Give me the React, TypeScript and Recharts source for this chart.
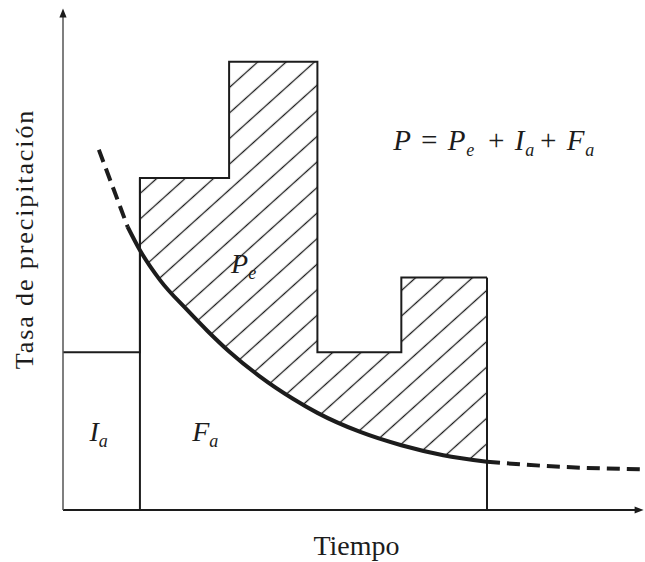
import React from "react";
import { ComposedChart, Area, Line, XAxis, YAxis, ReferenceLine, ReferenceDot } from "recharts";

// hyetograph blocks: edges in time and the rainfall rate of each block
const barEdges = [0, 0.88, 1.9, 2.91, 3.87, 4.85];
const rainRates = [1.9, 4.0, 5.4, 1.9, 2.8];

// infiltration capacity curve
const curveTimes = [0.41, 0.57, 0.74, 0.88, 1.11, 1.42, 1.65, 1.9, 2.25, 2.63, 2.91, 3.4, 3.87, 4.35, 4.85, 5.7, 6.6];
const infiltration = [4.34, 3.89, 3.41, 3.13, 2.77, 2.41, 2.16, 1.91, 1.61, 1.34, 1.17, 0.94, 0.78, 0.66, 0.58, 0.52, 0.49];

// where the curve is drawn solid (dashed outside)
const solidStart = 0.74;
const solidEnd = 4.85;

const INK = "#1c1c1c";
const SERIF = "'Liberation Serif', 'DejaVu Serif', serif";

const stepData = barEdges.map((t, i) => ({ t, rain: rainRates[Math.min(i, rainRates.length - 1)] }));

const curveData = curveTimes.map((t, i) => ({
  t,
  dashA: t <= solidStart ? infiltration[i] : undefined,
  solid: t >= solidStart && t <= solidEnd ? infiltration[i] : undefined,
  dashB: t >= solidEnd ? infiltration[i] : undefined,
}));

// effective rainfall band between the curve and the blocks (after ponding)
const hatchData: { t: number; band: number[] }[] = [];
curveTimes.forEach((t, i) => {
  const f = infiltration[i];
  if (t < barEdges[1] || t > barEdges[barEdges.length - 1]) return;
  let k = barEdges.findIndex((e, j) => j < rainRates.length && t >= e && t < barEdges[j + 1]);
  if (k < 0) k = rainRates.length - 1;
  if (k >= 2 && t === barEdges[k]) hatchData.push({ t, band: [f, rainRates[k - 1]] });
  hatchData.push({ t, band: [f, rainRates[k]] });
});

const Sub = ({ children }: { children: string }) => (
  <>
    <tspan fontSize={18} dy={6}>{children}</tspan>
    <tspan dy={-6}>{"\u200a"}</tspan>
  </>
);

export default function App() {
  return (
    <div style={{ position: "absolute", left: 0, top: 0 }}>
      <ComposedChart width={645} height={562} margin={{ top: 12, right: 5, bottom: 0, left: 0 }}>
        <defs>
          <pattern id="hatch" patternUnits="userSpaceOnUse" width={19} height={19} patternTransform="rotate(-42)">
            <line x1={0} y1={9.5} x2={19} y2={9.5} stroke={INK} strokeWidth={1.3} />
          </pattern>
          <marker id="arrowHead" viewBox="0 0 10 10" refX={6} refY={5} markerWidth={10} markerHeight={9}
            markerUnits="userSpaceOnUse" orient="auto-start-reverse">
            <path d="M0,1 L10,5 L0,9 z" fill={INK} />
          </marker>
        </defs>
        <XAxis
          type="number"
          dataKey="t"
          domain={[0, 6.6]}
          allowDataOverflow
          height={52}
          tick={false}
          tickLine={false}
          axisLine={{ stroke: INK, strokeWidth: 2, markerEnd: "url(#arrowHead)" }}
          label={{
            content: (p: any) => (
              <text x={p.viewBox.x + p.viewBox.width / 2 + 5} y={p.viewBox.y + 45} textAnchor="middle"
                fontFamily={SERIF} fontSize={28} fill={INK}>
                Tiempo
              </text>
            ),
          }}
        />
        <YAxis
          type="number"
          domain={[0, 6]}
          allowDataOverflow
          width={63}
          tick={false}
          tickLine={false}
          axisLine={{ stroke: "#555", strokeWidth: 1.5, markerStart: "url(#arrowHead)" }}
          label={{
            content: (p: any) => {
              const x = p.viewBox.x + 33;
              const y = 239;
              return (
                <text x={x} y={y} transform={`rotate(-90 ${x} ${y})`} textAnchor="middle"
                  fontFamily={SERIF} fontSize={26} letterSpacing={1.9} fill={INK}>
                  Tasa de precipitación
                </text>
              );
            },
          }}
        />

        <Area data={hatchData} dataKey="band" type="linear" stroke="none" fill="url(#hatch)" fillOpacity={1}
          isAnimationActive={false} />
        <Line data={stepData} dataKey="rain" type="stepAfter" stroke={INK} strokeWidth={2} dot={false}
          isAnimationActive={false} />
        <ReferenceLine segment={[{ x: barEdges[1], y: 0 }, { x: barEdges[1], y: rainRates[1] }]} stroke={INK} strokeWidth={2} />
        <ReferenceLine
          segment={[{ x: barEdges[barEdges.length - 1], y: 0 }, { x: barEdges[barEdges.length - 1], y: rainRates[rainRates.length - 1] }]}
          stroke={INK} strokeWidth={2} />

        <Line data={curveData} dataKey="dashA" type="monotone" stroke={INK} strokeWidth={4} strokeDasharray="13 7"
          dot={false} connectNulls={false} isAnimationActive={false} />
        <Line data={curveData} dataKey="solid" type="monotone" stroke={INK} strokeWidth={4}
          dot={false} connectNulls={false} isAnimationActive={false} />
        <Line data={curveData} dataKey="dashB" type="monotone" stroke={INK} strokeWidth={4} strokeDasharray="13 7"
          dot={false} connectNulls={false} isAnimationActive={false} />

        <ReferenceDot x={4.95} y={4.34} r={0} ifOverflow="visible"
          shape={(p: any) => (
            <text x={p.cx} y={p.cy} textAnchor="middle" fontFamily={SERIF} fontStyle="italic" fontSize={29}
              letterSpacing={0.8} fill={INK}>
              P = P<Sub>e</Sub> + I<Sub>a</Sub>+ F<Sub>a</Sub>
            </text>
          )} />
        <ReferenceDot x={2.08} y={2.85} r={0} ifOverflow="visible"
          shape={(p: any) => (
            <text x={p.cx} y={p.cy} textAnchor="middle" fontFamily={SERIF} fontStyle="italic" fontSize={28} fill={INK}>
              P<Sub>e</Sub>
            </text>
          )} />
        <ReferenceDot x={0.42} y={0.83} r={0} ifOverflow="visible"
          shape={(p: any) => (
            <text x={p.cx} y={p.cy} textAnchor="middle" fontFamily={SERIF} fontStyle="italic" fontSize={28} fill={INK}>
              I<Sub>a</Sub>
            </text>
          )} />
        <ReferenceDot x={1.64} y={0.83} r={0} ifOverflow="visible"
          shape={(p: any) => (
            <text x={p.cx} y={p.cy} textAnchor="middle" fontFamily={SERIF} fontStyle="italic" fontSize={28} fill={INK}>
              F<Sub>a</Sub>
            </text>
          )} />
      </ComposedChart>
    </div>
  );
}
